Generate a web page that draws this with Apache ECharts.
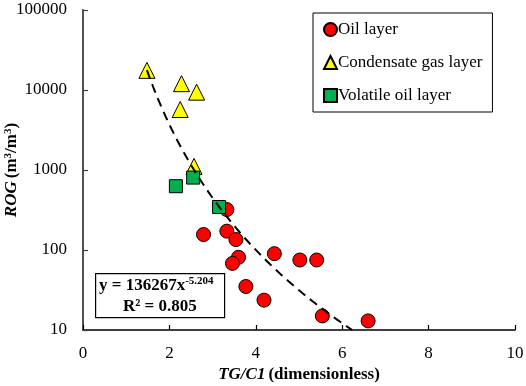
<!DOCTYPE html>
<html>
<head>
<meta charset="utf-8">
<script src="https://cdn.jsdelivr.net/npm/echarts@6/dist/echarts.min.js"></script>
<style>
html,body{margin:0;padding:0;background:#fff;}
#c{width:526px;height:386px;}
</style>
</head>
<body>
<div id="c"></div>
<script>
// Data
const oilX = [3.33, 2.79, 3.33, 3.54, 3.60, 3.46, 3.77, 4.19, 4.43, 5.02, 5.41, 5.54, 6.60];
const oilY = [320, 156, 172, 135, 81, 68, 35, 23.6, 90, 75, 75, 15, 13];
const condX = [1.48, 2.28, 2.63, 2.25, 2.57];
const condY = [17600, 12000, 9400, 5700, 1110];
const volX = [2.15, 2.55, 3.15];
const volY = [627, 804, 345];
// Power-law fit printed on the chart: y = 136267 x^-5.204
const fitA = 136267;
const fitB = -5.204;
const fitXStart = 1.48;
const fitXEnd = 6.23;
const xTicks = [0, 2, 4, 6, 8, 10];
const yTicks = [10, 100, 1000, 10000, 100000];
const seriesNames = ['Oil layer', 'Condensate gas layer', 'Volatile oil layer'];

function pairs(xs, ys) { return xs.map((x, i) => [x, ys[i]]); }
const fitLine = [];
for (let k = 0; k <= 100; k++) {
  const x = fitXStart + (fitXEnd - fitXStart) * k / 100;
  fitLine.push([x, fitA * Math.pow(x, fitB)]);
}

const FONT = 'Liberation Serif';
const chart = echarts.init(document.getElementById('c'), null, {renderer: 'canvas'});
chart.setOption({
  animation: false,
  backgroundColor: '#fff',
  textStyle: {fontFamily: FONT, color: '#000'},
  grid: {left: 83, right: 11, top: 10, bottom: 56, containLabel: false, outerBoundsMode: 'none'},
  legend: {
    orient: 'vertical',
    left: 313, top: 13,
    width: 197,
    data: seriesNames,
    itemWidth: 13, itemHeight: 13, itemGap: 16,
    padding: [8, 10, 8, 10],
    borderColor: '#000', borderWidth: 1,
    textStyle: {fontFamily: FONT, fontSize: 17, color: '#000', padding: [0, 0, 0, -4]}
  },
  xAxis: {
    type: 'value', min: 0, max: 10, interval: 2,
    name: '{i|TG/C1} {b|(dimensionless)}',
    nameLocation: 'middle', nameGap: 36, nameMoveOverlap: false,
    nameTextStyle: {rich: {
      i: {fontFamily: FONT, fontSize: 17, fontWeight: 'bold', fontStyle: 'italic', color: '#000'},
      b: {fontFamily: FONT, fontSize: 17, fontWeight: 'bold', color: '#000'}
    }},
    axisLine: {lineStyle: {color: '#000', width: 1.5}},
    axisTick: {inside: true, length: 5, lineStyle: {color: '#000', width: 1.2}},
    axisLabel: {fontFamily: FONT, fontSize: 17, color: '#000', margin: 15,
      formatter: v => xTicks.includes(v) ? String(v) : ''},
    splitLine: {show: false}
  },
  yAxis: {
    type: 'log', logBase: 10, min: 10, max: 100000,
    name: '{i|ROG} {b|(m}{s|3}{b|/m}{s|3}{b|)}',
    nameLocation: 'middle', nameRotate: 90, nameGap: 62, nameMoveOverlap: false,
    nameTextStyle: {rich: {
      i: {fontFamily: FONT, fontSize: 17, fontWeight: 'bold', fontStyle: 'italic', color: '#000'},
      b: {fontFamily: FONT, fontSize: 17, fontWeight: 'bold', color: '#000'},
      s: {fontFamily: FONT, fontSize: 11, fontWeight: 'bold', color: '#000', padding: [0, 0, 7, 0]}
    }},
    axisLine: {show: true, lineStyle: {color: '#404040', width: 1.8}},
    axisTick: {inside: true, length: 5, lineStyle: {color: '#404040', width: 1.2}},
    axisLabel: {fontFamily: FONT, fontSize: 17, color: '#000', margin: 16,
      formatter: v => { const r = Math.round(v); return yTicks.includes(r) ? String(r) : ''; }},
    splitLine: {show: false}
  },
  series: [
    {
      name: seriesNames[0], type: 'scatter', data: pairs(oilX, oilY),
      symbol: 'circle', symbolSize: 14,
      itemStyle: {color: '#FF0000', borderColor: '#000', borderWidth: 1, opacity: 1}
    },
    {
      name: seriesNames[1], type: 'scatter', data: pairs(condX, condY),
      symbol: 'triangle', symbolSize: 16,
      itemStyle: {color: '#FFFF00', borderColor: '#000', borderWidth: 1, opacity: 1}
    },
    {
      name: seriesNames[2], type: 'scatter', data: pairs(volX, volY),
      symbol: 'rect', symbolSize: 13,
      itemStyle: {color: '#00B050', borderColor: '#000', borderWidth: 1, opacity: 1}
    },
    {
      name: 'fit', type: 'line', data: fitLine, showSymbol: false, symbol: 'none',
      lineStyle: {color: '#000', width: 2, type: [9, 6]}, z: 5, silent: true
    }
  ],
  graphic: [
    {
      type: 'rect', left: 95, top: 273, z: 10,
      shape: {width: 129, height: 44},
      style: {fill: '#fff', stroke: '#000', lineWidth: 1.2}
    },
    {
      type: 'text', left: 99, top: 276, z: 11,
      style: {
        text: '{b|y = 136267x}{s|-5.204}',
        rich: {
          b: {fontFamily: FONT, fontSize: 17, fontWeight: 'bold', fill: '#000'},
          s: {fontFamily: FONT, fontSize: 11, fontWeight: 'bold', fill: '#000', padding: [0, 0, 8, 0]}
        }
      }
    },
    {
      type: 'text', left: 123, top: 298, z: 11,
      style: {text: 'R² = 0.805', font: 'bold 17px "Liberation Serif"', fill: '#000'}
    }
  ]
});
</script>
</body>
</html>
